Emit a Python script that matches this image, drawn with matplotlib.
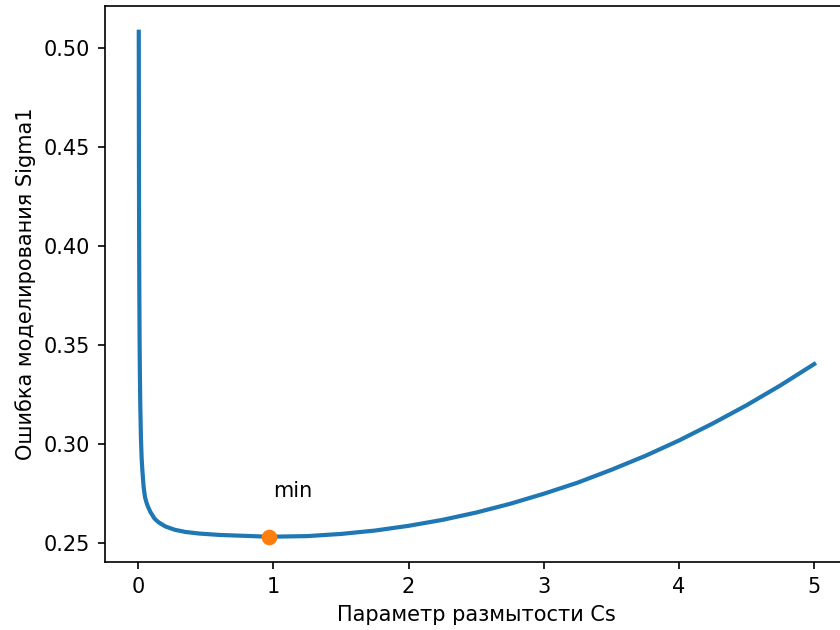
import numpy as np
import matplotlib.pyplot as plt

# ошибка моделирования в зависимости от параметра размытости
cs = [0.004, 0.005, 0.006, 0.007, 0.008, 0.01, 0.012, 0.015, 0.02, 0.025,
      0.03, 0.04, 0.05, 0.06, 0.07, 0.09, 0.12, 0.15, 0.2, 0.27,
      0.35, 0.45, 0.6, 0.8, 0.97, 1.25, 1.5, 1.75, 2.0, 2.25,
      2.5, 2.75, 3.0, 3.25, 3.5, 3.75, 4.0, 4.25, 4.5, 4.75, 5.0]
sigma1 = [0.508, 0.455, 0.42, 0.396, 0.378, 0.353, 0.337, 0.32, 0.303, 0.293,
          0.287, 0.278, 0.273, 0.2705, 0.2685, 0.2655, 0.2622, 0.2603, 0.2582, 0.2565,
          0.2554, 0.2546, 0.2539, 0.2534, 0.2530, 0.2533, 0.2544, 0.2561, 0.2585, 0.2615,
          0.2652, 0.2696, 0.2747, 0.2803, 0.2868, 0.2938, 0.3016, 0.3102, 0.3194, 0.3294, 0.3402]

cs_min = 0.97
sigma_min = 0.2530

fig = plt.figure(figsize=(5.6, 4.2), dpi=150)
ax = fig.add_axes([0.125, 0.108, 0.8845, 0.8817])

ax.plot(cs, sigma1, color='#1f77b4', lw=2)
ax.plot(cs_min, sigma_min, 'o', color='#ff7f0e', markersize=6.5)
ax.text(cs_min + 0.03, sigma_min + 0.02, 'min')

ax.set_xlabel('Параметр размытости Cs')
ax.set_ylabel('Ошибка моделирования Sigma1')

fig.savefig('out.png', dpi=150)
